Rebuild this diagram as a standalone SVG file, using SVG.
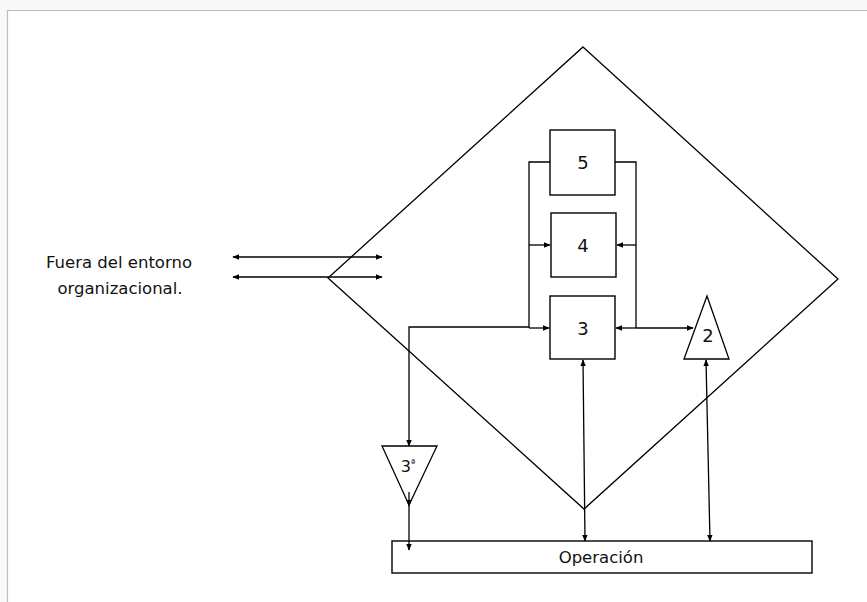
<svg xmlns="http://www.w3.org/2000/svg" width="867" height="602" viewBox="0 0 867 602">
  <style>
    .ln { fill: none; stroke: #000; stroke-width: 1.3; }
    .box { fill: #fff; stroke: #000; stroke-width: 1.4; }
    .lbl { font-family: "DejaVu Sans", Verdana, sans-serif; fill: #111; text-anchor: middle; }
  </style>
  <defs>
    <marker id="ah" viewBox="0 0 10 10" refX="9" refY="5" markerWidth="7" markerHeight="7" markerUnits="userSpaceOnUse" orient="auto-start-reverse">
      <path d="M0,1 L10,5 L0,9 Z" fill="#000"/>
    </marker>
  </defs>

  <!-- page frame -->
  <rect x="0" y="0" width="867" height="10" fill="#f8f8f8"/>
  <rect x="0" y="10" width="7" height="592" fill="#f8f8f8"/>
  <path d="M7.5,602 V10.5 H867" fill="none" stroke="#bdbdbd" stroke-width="1.2"/>

  <!-- environment label -->
  <g id="entorno">
    <text class="lbl" x="119" y="268" font-size="16.5">Fuera del entorno</text>
    <text class="lbl" x="120" y="294" font-size="16.5">organizacional.</text>
  </g>

  <!-- system boundary -->
  <g id="sistema">
    <polygon class="ln" points="583,47 838,279 584,509 328,278"/>
  </g>

  <g id="s5">
    <rect class="box" x="550" y="130" width="65" height="65"/>
    <text class="lbl" x="583" y="169" font-size="18">5</text>
  </g>
  <g id="s4">
    <rect class="box" x="551" y="213" width="65" height="64"/>
    <text class="lbl" x="583" y="252" font-size="18">4</text>
  </g>
  <g id="s3">
    <rect class="box" x="550" y="296" width="65" height="63"/>
    <text class="lbl" x="583" y="335" font-size="18">3</text>
  </g>
  <g id="s2">
    <polygon class="ln" points="707,296 729,359 684,359"/>
    <text class="lbl" x="708" y="342" font-size="18">2</text>
  </g>
  <g id="s3a">
    <polygon class="ln" points="382,446 437,446 409,505"/>
    <text class="lbl" x="408" y="472" font-size="16">3<tspan font-size="9" dy="-6">ª</tspan></text>
  </g>
  <g id="operacion">
    <rect class="box" x="392" y="541" width="420" height="32"/>
    <text class="lbl" x="601" y="563" font-size="16.5">Operación</text>
  </g>

  <g id="conectores">
    <!-- links with the outside -->
    <line class="ln" x1="233" y1="257" x2="382" y2="257" marker-start="url(#ah)" marker-end="url(#ah)"/>
    <line class="ln" x1="233" y1="277" x2="382" y2="277" marker-start="url(#ah)" marker-end="url(#ah)"/>

    <!-- left bracket -->
    <path class="ln" d="M550,162 H529 V328" stroke-width="2"/>
    <line class="ln" x1="529" y1="245" x2="550" y2="245" marker-end="url(#ah)"/>
    <line class="ln" x1="529" y1="328" x2="549" y2="328" marker-end="url(#ah)"/>

    <!-- right bracket -->
    <path class="ln" d="M615,162 H636 V328"/>
    <line class="ln" x1="636" y1="245" x2="617" y2="245" marker-end="url(#ah)"/>
    <line class="ln" x1="636" y1="328" x2="616" y2="328" marker-end="url(#ah)"/>

    <!-- 3 to 2 -->
    <line class="ln" x1="636" y1="328" x2="693" y2="328" marker-end="url(#ah)"/>

    <!-- 3 to 3a and down to operation -->
    <path class="ln" d="M529,327 H409 V446" marker-end="url(#ah)"/>
    <line class="ln" x1="409" y1="492" x2="409" y2="506" marker-end="url(#ah)"/>
    <line class="ln" x1="409" y1="506" x2="409" y2="550" marker-end="url(#ah)"/>

    <!-- 3 to operation -->
    <line class="ln" x1="583" y1="360" x2="585" y2="541" marker-start="url(#ah)" marker-end="url(#ah)"/>
    <!-- 2 to operation -->
    <line class="ln" x1="706" y1="360" x2="710" y2="541" marker-start="url(#ah)" marker-end="url(#ah)"/>
  </g>
</svg>
